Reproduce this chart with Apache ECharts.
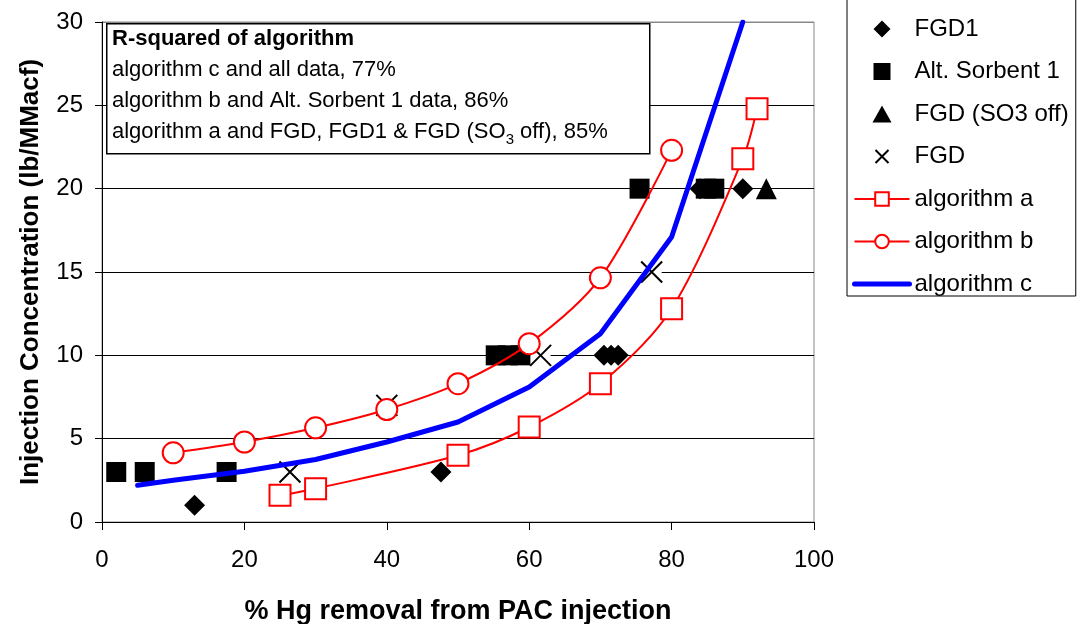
<!DOCTYPE html>
<html lang="en">
<head>
  <meta charset="UTF-8">
  <title>Injection concentration vs % Hg removal</title>
  <script src="https://cdn.jsdelivr.net/npm/echarts@6/dist/echarts.min.js"></script>
  <style>
    body { margin: 0; background: #fff; }
    #main { width: 1078px; height: 624px; }
  </style>
</head>
<body>
  <div id="main"></div>
  <script>
    // measured points, [x = % Hg removal, y = lb/MMacf]
    const fgd1 = [[13, 1], [47.6, 3], [70.5, 10], [71.5, 10], [72.5, 10], [84, 20], [90, 20]];
    const altSorbent1 = [[2, 3], [6, 3], [17.5, 3], [55.3, 10], [57, 10], [58.8, 10], [75.5, 20], [84.8, 20], [86, 20]];
    const fgdSo3Off = [[93.3, 20]];
    const fgd = [[26.4, 3], [40, 7], [61.6, 10], [77.2, 15]];

    const algAx = [25, 30, 50, 60, 70, 80, 90, 92];
    const algAy = [1.6, 2.0, 4.0, 5.7, 8.3, 12.8, 21.8, 24.8];
    const algBx = [10, 20, 30, 40, 50, 60, 70, 80];
    const algBy = [4.15, 4.8, 5.65, 6.75, 8.3, 10.7, 14.65, 22.3];
    const algCx = [5, 10, 20, 30, 40, 50, 60, 70, 80, 90];
    const algCy = [2.2, 2.5, 3.05, 3.75, 4.8, 6.0, 8.1, 11.3, 17.1, 30];

    const pair = (xs, ys) => xs.map((x, i) => [x, ys[i]]);
    const FONT = 'Arial, "Liberation Sans", sans-serif';

    // legend icons: the two leading moves pin the box to 55x17 so the marker keeps its shape
    const BOX = 'path://M0,0M55,17';
    const legendIcons = {
      diamond: BOX + 'M27.5,-0.5L36.5,8.5L27.5,17.5L18.5,8.5Z',
      square: BOX + 'M19,0H36V17H19Z',
      triangle: BOX + 'M27.5,0L37,17H18Z',
      cross: BOX + 'M21,2L34,15M34,2L21,15'
    };

    var myChart = echarts.init(document.getElementById('main'));
    var option = {
      backgroundColor: '#fff',
      animation: false,
      textStyle: { fontFamily: FONT, color: '#000' },
      grid: {
        left: 102, right: 264, top: 22, bottom: 102,
        outerBoundsMode: 'none', containLabel: false,
        show: true, borderColor: '#888', borderWidth: 1
      },
      xAxis: {
        type: 'value', min: 0, max: 100, interval: 20,
        name: '% Hg removal from PAC injection',
        nameLocation: 'middle', nameGap: 76,
        nameTextStyle: { fontSize: 27, fontWeight: 'bold', color: '#000', fontFamily: FONT },
        axisLine: { lineStyle: { color: '#000', width: 1 } },
        axisTick: { length: 8, lineStyle: { color: '#000' } },
        axisLabel: { fontSize: 24, margin: 26, color: '#000', fontFamily: FONT },
        splitLine: { show: false }
      },
      yAxis: {
        type: 'value', min: 0, max: 30, interval: 5,
        name: 'Injection Concentration (lb/MMacf)',
        nameLocation: 'middle', nameGap: 58,
        nameTextStyle: { fontSize: 26, fontWeight: 'bold', color: '#000', fontFamily: FONT },
        axisLine: { show: true, lineStyle: { color: '#000', width: 1 } },
        axisTick: { show: true, length: 7, lineStyle: { color: '#000' } },
        axisLabel: { fontSize: 24, margin: 19, color: '#000', fontFamily: FONT },
        splitLine: {
          show: true,
          lineStyle: { color: ['#000', '#000', '#000', '#000', '#000', '#000', '#888'], width: 1 }
        }
      },
      legend: {
        data: [
          { name: 'FGD1', icon: legendIcons.diamond },
          { name: 'Alt. Sorbent 1', icon: legendIcons.square },
          { name: 'FGD (SO3 off)', icon: legendIcons.triangle },
          { name: 'FGD', icon: legendIcons.cross, itemStyle: { borderWidth: 2 } },
          { name: 'algorithm a' },
          { name: 'algorithm b' },
          { name: 'algorithm c', itemStyle: { opacity: 0 }, lineStyle: { width: 5 } }
        ],
        orient: 'vertical',
        left: 847, top: -1,
        padding: [18, 7, 0, 5],
        itemGap: 18.5,
        itemWidth: 55, itemHeight: 17,
        textStyle: { fontSize: 24, lineHeight: 20, color: '#000', fontFamily: FONT },
        borderColor: '#000', borderWidth: 1
      },
      graphic: [
        {
          type: 'rect', left: 106, top: 23, z: 50,
          shape: { width: 543, height: 130 },
          style: { fill: '#fff', stroke: '#000', lineWidth: 1.5 }
        },
        {
          type: 'text', left: 112, top: 28, z: 51,
          style: {
            text: '{b|R-squared of algorithm}\n' +
                  '{n|algorithm c and all data, 77%}\n' +
                  '{n|algorithm b and Alt. Sorbent 1 data, 86%}\n' +
                  '{n|algorithm a and FGD, FGD1 & FGD (SO}{s|3}{n| off), 85%}',
            fill: '#000',
            font: '22px ' + FONT,
            rich: {
              b: { fontSize: 22, fontWeight: 'bold', lineHeight: 31, fontFamily: FONT, fill: '#000' },
              n: { fontSize: 22, lineHeight: 31, fontFamily: FONT, fill: '#000' },
              s: { fontSize: 15, lineHeight: 20, verticalAlign: 'bottom', fontFamily: FONT, fill: '#000' }
            }
          }
        }
      ],
      series: [
        {
          name: 'algorithm c', type: 'line', data: pair(algCx, algCy),
          showSymbol: false, symbol: 'none',
          lineStyle: { color: '#0000ff', width: 5, cap: 'round' },
          itemStyle: { color: '#0000ff' }
        },
        {
          name: 'FGD1', type: 'scatter', data: fgd1,
          symbol: 'diamond', symbolSize: 21,
          itemStyle: { color: '#000', opacity: 1 }
        },
        {
          name: 'Alt. Sorbent 1', type: 'scatter', data: altSorbent1,
          symbol: 'rect', symbolSize: 20,
          itemStyle: { color: '#000', opacity: 1 }
        },
        {
          name: 'FGD (SO3 off)', type: 'scatter', data: fgdSo3Off,
          symbol: 'triangle', symbolSize: 21,
          itemStyle: { color: '#000', opacity: 1 }
        },
        {
          // white backing behind the x markers
          name: 'FGD bg', type: 'scatter', data: fgd, silent: true,
          symbol: 'rect', symbolSize: 20,
          itemStyle: { color: '#fff', opacity: 1 }
        },
        {
          name: 'FGD', type: 'scatter', data: fgd,
          symbol: 'path://M0,0L10,10M10,0L0,10', symbolSize: 21,
          itemStyle: { color: 'rgba(0,0,0,0)', borderColor: '#000', borderWidth: 2, opacity: 1 }
        },
        {
          name: 'algorithm a', type: 'line', data: pair(algAx, algAy),
          smooth: 0.3, symbol: 'rect', symbolSize: 21,
          lineStyle: { color: '#ff0000', width: 2 },
          itemStyle: { color: '#fff', borderColor: '#ff0000', borderWidth: 2 }
        },
        {
          name: 'algorithm b', type: 'line', data: pair(algBx, algBy),
          smooth: 0.3, symbol: 'circle', symbolSize: 21,
          lineStyle: { color: '#ff0000', width: 2 },
          itemStyle: { color: '#fff', borderColor: '#ff0000', borderWidth: 2 }
        }
      ]
    };

    myChart.setOption(option);
  </script>
</body>
</html>
